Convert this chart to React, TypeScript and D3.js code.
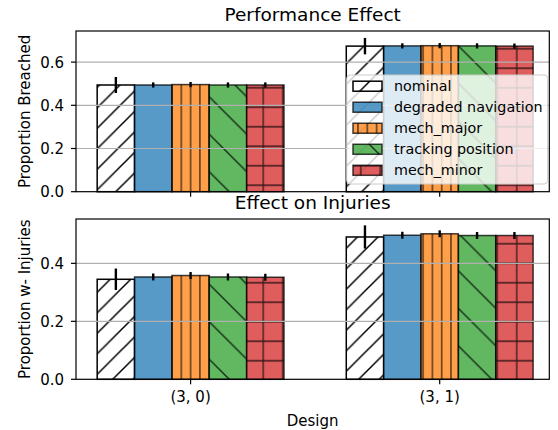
import React from 'react';
import * as d3 from 'd3';

// values
const groups = ['(3, 0)', '(3, 1)'];
const series = ['nominal', 'degraded navigation', 'mech_major', 'tracking position', 'mech_minor'];

const breached30 = [0.494, 0.494, 0.496, 0.494, 0.494];
const breached31 = [0.674, 0.675, 0.676, 0.675, 0.674];
const breachedErr30 = [0.037, 0.012, 0.012, 0.012, 0.012];
const breachedErr31 = [0.038, 0.012, 0.012, 0.012, 0.012];

const injury30 = [0.345, 0.353, 0.358, 0.353, 0.352];
const injury31 = [0.491, 0.497, 0.502, 0.496, 0.496];
const injuryErr30 = [0.037, 0.012, 0.012, 0.012, 0.012];
const injuryErr31 = [0.040, 0.012, 0.012, 0.012, 0.012];

const topTicks = [0, 0.2, 0.4, 0.6];
const bottomTicks = [0, 0.2, 0.4];

const colors = ['#ffffff', '#1f77b4', '#ff7f0e', '#2ca02c', '#d62728'];
const hatches = ['url(#h-slash)', null, 'url(#h-vert)', 'url(#h-back)', 'url(#h-plus)'];

const W = 558;
const H = 430;
const left = 76;
const right = 549.3;
const font = 'DejaVu Sans, sans-serif';

const x = d3.scaleLinear().domain([-0.46, 1.44]).range([left, right]);
const inner = d3.scaleBand().domain(series).range([-0.375, 0.375]);

function Panel({ top, bottom, yMax, means, errs, ticks, title, ylabel, xLabels }) {
  const y = d3.scaleLinear().domain([0, yMax]).range([bottom, top]);
  const bw = x(inner.bandwidth()) - x(0);
  return (
    <g>
      {groups.map((g, gi) =>
        series.map((s, si) => {
          const x0 = x(gi + inner(s));
          const y0 = y(means[gi][si]);
          const nominal = si === 0;
          return (
            <g key={g + s}>
              <rect x={x0} y={y0} width={bw} height={y(0) - y0}
                fill={colors[si]} fillOpacity={nominal ? 1 : 0.75} />
              {hatches[si] && (
                <rect x={x0} y={y0} width={bw} height={y(0) - y0}
                  fill={hatches[si]} opacity={nominal ? 1 : 0.75} />
              )}
              <rect x={x0} y={y0} width={bw} height={y(0) - y0} fill="none"
                stroke="#000" strokeOpacity={nominal ? 1 : 0.75} strokeWidth={1.5} />
            </g>
          );
        })
      )}
      {/* grid sits over the bars */}
      {ticks.filter(t => t > 0).map(t => (
        <line key={t} x1={left} x2={right} y1={y(t)} y2={y(t)} stroke="#b0b0b0" strokeWidth={1.2} />
      ))}
      {groups.map((g, gi) =>
        series.map((s, si) => {
          const cx = x(gi + inner(s) + inner.bandwidth() / 2);
          const m = means[gi][si];
          const e = errs[gi][si];
          return (
            <line key={'e' + g + s} x1={cx} x2={cx} y1={y(m - e)} y2={y(m + e)}
              stroke="#000" strokeWidth={2.4} />
          );
        })
      )}
      <rect x={left} y={top} width={right - left} height={bottom - top} fill="none" stroke="#000" strokeWidth={1.2} />
      {ticks.map(t => (
        <g key={'t' + t}>
          <line x1={left - 5} x2={left} y1={y(t)} y2={y(t)} stroke="#000" strokeWidth={1.2} />
          <text x={left - 12} y={y(t)} dy="0.36em" textAnchor="end" fontSize={15} fontFamily={font}>
            {t.toFixed(1)}
          </text>
        </g>
      ))}
      {groups.map((g, gi) => (
        <g key={'x' + g}>
          <line x1={x(gi)} x2={x(gi)} y1={bottom} y2={bottom + 5} stroke="#000" strokeWidth={1.2} />
          {xLabels && (
            <text x={x(gi)} y={bottom + 22.5} textAnchor="middle" fontSize={15} fontFamily={font}>{g}</text>
          )}
        </g>
      ))}
      <text x={(left + right) / 2} y={top - 10.3} textAnchor="middle" fontSize={18.5} fontFamily={font}>{title}</text>
      <text transform={`translate(29.5,${(top + bottom) / 2}) rotate(-90)`} textAnchor="middle"
        fontSize={15} fontFamily={font}>{ylabel}</text>
    </g>
  );
}

function Legend() {
  const lx = 346.7;
  const ly = 75;
  const rowY = d3.scaleLinear().domain([0, 4]).range([86.2, 170.3]);
  return (
    <g>
      <rect x={lx} y={ly} width={201} height={109} rx={3.5} fill="#fff" fillOpacity={0.8}
        stroke="#cccccc" strokeWidth={1} />
      {series.map((s, si) => {
        const cy = rowY(si);
        const nominal = si === 0;
        return (
          <g key={s}>
            <rect x={353} y={cy - 5} width={29} height={10} fill={colors[si]} fillOpacity={nominal ? 1 : 0.75} />
            {hatches[si] && (
              <rect x={353} y={cy - 5} width={29} height={10} fill={hatches[si]} opacity={nominal ? 1 : 0.75} />
            )}
            <rect x={353} y={cy - 5} width={29} height={10} fill="none" stroke="#000"
              strokeOpacity={nominal ? 1 : 0.75} strokeWidth={1.5} />
            <text x={394} y={cy} dy="0.36em" fontSize={14.3} fontFamily={font}>{s}</text>
          </g>
        );
      })}
    </g>
  );
}

export default function App() {
  return (
    <svg width={W} height={H} style={{ position: 'absolute', left: 0, top: 0, background: '#fff' }}>
      <defs>
        <pattern id="h-slash" patternUnits="userSpaceOnUse" width={20.5} height={20.5}>
          <path d="M0,20.5 L20.5,0 M-5,5 L5,-5 M15.5,25.5 L25.5,15.5" stroke="#000" strokeWidth={1.5} />
        </pattern>
        <pattern id="h-vert" patternUnits="userSpaceOnUse" width={9.3} height={9.3}>
          <path d="M4.6,0 L4.6,9.3" stroke="#000" strokeWidth={1.3} />
        </pattern>
        <pattern id="h-back" patternUnits="userSpaceOnUse" width={37.5} height={37.5}>
          <path d="M0,0 L37.5,37.5 M-5,32.5 L5,42.5 M32.5,-5 L42.5,5" stroke="#000" strokeWidth={1.4} />
        </pattern>
        <pattern id="h-plus" patternUnits="userSpaceOnUse" width={19.5} height={19.5}>
          <path d="M9.75,0 L9.75,19.5 M0,9.75 L19.5,9.75" stroke="#000" strokeWidth={1.3} />
        </pattern>
      </defs>
      <Panel top={31} bottom={191.7} yMax={0.744}
        means={[breached30, breached31]} errs={[breachedErr30, breachedErr31]}
        ticks={topTicks} title="Performance Effect" ylabel="Proportion Breached" xLabels={false} />
      <Panel top={219} bottom={379.3} yMax={0.553}
        means={[injury30, injury31]} errs={[injuryErr30, injuryErr31]}
        ticks={bottomTicks} title="Effect on Injuries" ylabel="Proportion w- Injuries" xLabels={true} />
      <text x={(left + right) / 2} y={425.5} textAnchor="middle" fontSize={15} fontFamily={font}>Design</text>
      <Legend />
    </svg>
  );
}
